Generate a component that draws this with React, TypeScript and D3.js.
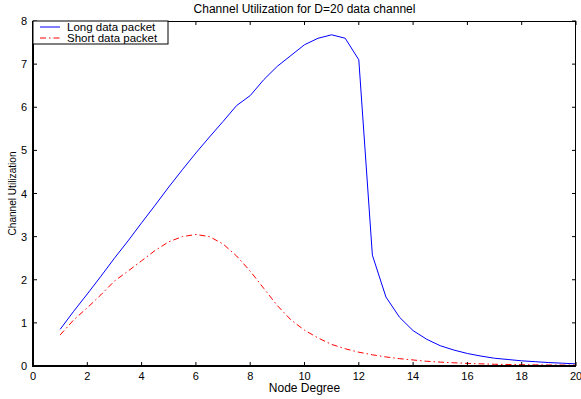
import React, { useEffect, useRef } from 'react';
import * as d3 from 'd3';

// node degree samples (0.5 steps)
const nodeDegree = [1, 1.5, 2, 2.5, 3, 3.5, 4, 4.5, 5, 5.5, 6, 6.5, 7, 7.5, 8, 8.5, 9, 9.5, 10, 10.5,
  11, 11.5, 12, 12.5, 13, 13.5, 14, 14.5, 15, 15.5, 16, 16.5, 17, 17.5, 18, 18.5, 19, 19.5, 20];

const longPacket = [0.85, 1.27, 1.67, 2.08, 2.5, 2.9, 3.32, 3.73, 4.15, 4.55, 4.94, 5.31, 5.67, 6.04, 6.27, 6.64,
  6.95, 7.2, 7.45, 7.6, 7.68, 7.6, 7.1, 2.57, 1.6, 1.13, 0.82, 0.62, 0.47, 0.37, 0.29, 0.23, 0.18, 0.15,
  0.12, 0.1, 0.08, 0.065, 0.05];

const shortPacket = [0.72, 1.07, 1.35, 1.65, 1.97, 2.2, 2.44, 2.68, 2.88, 3.0, 3.05, 3.0, 2.83, 2.55, 2.2, 1.8,
  1.4, 1.07, 0.83, 0.65, 0.5, 0.4, 0.32, 0.26, 0.21, 0.17, 0.14, 0.11, 0.09, 0.075, 0.06, 0.05, 0.04,
  0.035, 0.03, 0.027, 0.024, 0.022, 0.02];

const xTicks = [0, 2, 4, 6, 8, 10, 12, 14, 16, 18, 20];
const yTicks = [0, 1, 2, 3, 4, 5, 6, 7, 8];

const seriesNames = ['Long data packet', 'Short data packet'];
const titleText = 'Channel Utilization for D=20 data channel';
const xLabel = 'Node Degree';
const yLabel = 'Channel Utilization';

const FONT = '"Liberation Sans", Arial, Helvetica, sans-serif';

const Chart = ({ width = 581, height = 399 }) => {
  const ref = useRef<SVGSVGElement>(null);

  useEffect(() => {
    const margin = { top: 21, right: 5, bottom: 33, left: 33 };
    const innerWidth = width - margin.left - margin.right;
    const innerHeight = height - margin.top - margin.bottom;

    const svg = d3.select(ref.current)
      .attr('width', width)
      .attr('height', height);

    svg.selectAll('*').remove();

    svg.append('rect').attr('width', width).attr('height', height).attr('fill', 'white');

    const g = svg.append('g')
      .attr('transform', `translate(${margin.left},${margin.top})`);

    const x = d3.scaleLinear().domain([0, 20]).range([0, innerWidth]);
    const y = d3.scaleLinear().domain([0, 8]).range([innerHeight, 0]);

    const line = d3.line<number>()
      .x((_, i) => x(nodeDegree[i]))
      .y(d => y(d));

    g.append('path')
      .datum(longPacket)
      .attr('fill', 'none')
      .attr('stroke', '#0000ff')
      .attr('stroke-width', 1)
      .attr('d', line);

    g.append('path')
      .datum(shortPacket)
      .attr('fill', 'none')
      .attr('stroke', '#ff0000')
      .attr('stroke-width', 1)
      .attr('stroke-dasharray', '6,3,1.5,3')
      .attr('d', line);

    // inward ticks on all four sides
    const tickLen = 4;
    g.selectAll('.xt-b').data(xTicks).enter().append('line')
      .attr('x1', d => x(d)).attr('x2', d => x(d))
      .attr('y1', innerHeight).attr('y2', innerHeight - tickLen)
      .attr('stroke', 'black');
    g.selectAll('.xt-t').data(xTicks).enter().append('line')
      .attr('x1', d => x(d)).attr('x2', d => x(d))
      .attr('y1', 0).attr('y2', tickLen)
      .attr('stroke', 'black');
    g.selectAll('.yt-l').data(yTicks).enter().append('line')
      .attr('y1', d => y(d)).attr('y2', d => y(d))
      .attr('x1', 0).attr('x2', tickLen)
      .attr('stroke', 'black');
    g.selectAll('.yt-r').data(yTicks).enter().append('line')
      .attr('y1', d => y(d)).attr('y2', d => y(d))
      .attr('x1', innerWidth).attr('x2', innerWidth - tickLen)
      .attr('stroke', 'black');

    // box
    g.append('line').attr('x1', 0).attr('x2', innerWidth).attr('y1', 0.5).attr('y2', 0.5).attr('stroke', 'black');
    g.append('line').attr('x1', innerWidth - 0.5).attr('x2', innerWidth - 0.5).attr('y1', 0).attr('y2', innerHeight).attr('stroke', 'black');
    g.append('line').attr('x1', -1).attr('x2', innerWidth).attr('y1', innerHeight).attr('y2', innerHeight)
      .attr('stroke', 'black').attr('stroke-width', 2);
    g.append('line').attr('x1', 0).attr('x2', 0).attr('y1', 0).attr('y2', innerHeight + 1)
      .attr('stroke', 'black').attr('stroke-width', 2);

    // tick labels
    g.selectAll('.xl').data(xTicks).enter().append('text')
      .attr('x', d => x(d)).attr('y', innerHeight + 14)
      .attr('text-anchor', 'middle')
      .style('font-family', FONT).style('font-size', '11px')
      .text(d => d);
    g.selectAll('.yl').data(yTicks).enter().append('text')
      .attr('x', -6).attr('y', d => y(d) + 4)
      .attr('text-anchor', 'end')
      .style('font-family', FONT).style('font-size', '11px')
      .text(d => d);

    // titles
    svg.append('text')
      .attr('x', margin.left + innerWidth / 2).attr('y', 13)
      .attr('text-anchor', 'middle')
      .style('font-family', FONT).style('font-size', '12px')
      .text(titleText);
    svg.append('text')
      .attr('x', margin.left + innerWidth / 2).attr('y', height - 7)
      .attr('text-anchor', 'middle')
      .style('font-family', FONT).style('font-size', '12px')
      .text(xLabel);
    svg.append('text')
      .attr('transform', `translate(16,${margin.top + innerHeight / 2}) rotate(-90)`)
      .attr('text-anchor', 'middle')
      .style('font-family', FONT).style('font-size', '10px')
      .attr('textLength', 84)
      .attr('lengthAdjust', 'spacingAndGlyphs')
      .text(yLabel);

    // legend
    const legend = g.append('g');
    legend.append('rect')
      .attr('x', 0).attr('y', 0).attr('width', 135).attr('height', 23)
      .attr('fill', 'white').attr('stroke', 'black').attr('stroke-width', 1);
    const colors = ['#0000ff', '#ff0000'];
    const dashes = [null, '6,3,1.5,3'];
    seriesNames.forEach((name, i) => {
      const ly = 6 + i * 11;
      legend.append('line')
        .attr('x1', 7).attr('x2', 27).attr('y1', ly).attr('y2', ly)
        .attr('stroke', colors[i])
        .attr('stroke-dasharray', dashes[i]);
      legend.append('text')
        .attr('x', 34).attr('y', ly + 4)
        .style('font-family', FONT).style('font-size', '11.5px')
        .text(name);
    });
  }, [width, height]);

  return <svg ref={ref}></svg>;
};

export default function App() {
  return (
    <div style={{ position: 'absolute', left: 0, top: 0 }}>
      <Chart />
    </div>
  );
}
